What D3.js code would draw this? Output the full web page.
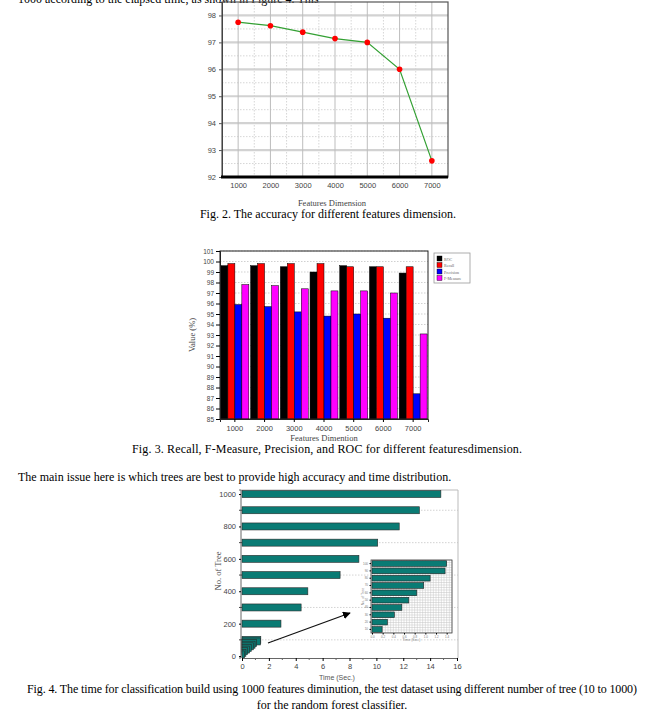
<!DOCTYPE html>
<html><head><meta charset="utf-8">
<script src="https://cdn.jsdelivr.net/npm/d3@7"></script>
<style>
html,body{margin:0;padding:0;background:#fff;}
svg{display:block;}
.cap{font-family:"Liberation Serif","Times New Roman",serif;font-size:12px;fill:#000;}
.lab{font-family:"Liberation Serif","Times New Roman",serif;font-size:8.5px;fill:#444;}
.tk text{font-family:"Liberation Sans",Arial,sans-serif;font-size:7.5px;fill:#444;}
</style></head>
<body>
<svg id="c" width="663" height="716"></svg>
<script>
// ---------- DATA ----------
const features = [1000, 2000, 3000, 4000, 5000, 6000, 7000];
const accuracy = [97.75, 97.62, 97.38, 97.14, 97.0, 96.0, 92.6];
const accTicks = [92, 93, 94, 95, 96, 97, 98];

const metricNames = ["ROC", "Recall", "Precision", "F-Measure"];
const rocVals = [99.6, 99.6, 99.5, 99.0, 99.6, 99.5, 98.9];
const recallVals = [99.8, 99.8, 99.8, 99.8, 99.5, 99.5, 99.5];
const precisionVals = [95.9, 95.7, 95.2, 94.8, 95.0, 94.6, 87.4];
const fmeasureVals = [97.8, 97.7, 97.4, 97.2, 97.2, 97.0, 93.1];
const metricColors = ["#000000", "#ff0000", "#0000ff", "#ff00ff"];
const valTicks = d3.range(85, 102);

const trees = [10, 20, 30, 40, 50, 60, 70, 80, 90, 100, 200, 300, 400, 500, 600, 700, 800, 900, 1000];
const times = [0.19, 0.29, 0.42, 0.56, 0.69, 0.84, 0.97, 1.09, 1.37, 1.40, 2.9, 4.4, 4.9, 7.3, 8.7, 10.1, 11.7, 13.2, 14.8];
const treeTicks = [0, 200, 400, 600, 800, 1000];
const timeTicks = [0, 2, 4, 6, 8, 10, 12, 14, 16];
const insetTimeTicks = [0.0, 0.2, 0.4, 0.6, 0.8, 1.0, 1.2, 1.4];

const svg = d3.select("#c");
const sansFont = '"Liberation Sans",Arial,sans-serif';

// ---------- page text ----------
svg.append("text").attr("class","cap").attr("x",18).attr("y",3)
  .text("1000 according to the elapsed time, as shown in Figure 4. This");

// ---------- FIG 2 ----------
(function(){
  const L=222,R=448,T=2,B=177;
  const x=d3.scaleLinear().domain([500,7500]).range([L,R]);
  const y=d3.scaleLinear().domain([92,98.5]).range([B,T]);
  const g=svg.append("g");
  d3.range(92.5,98.5,1).forEach(v=>g.append("line").attr("x1",L).attr("x2",R).attr("y1",y(v)).attr("y2",y(v))
    .attr("stroke","#ccc").attr("stroke-dasharray","1.5,1.5").attr("stroke-width",0.8));
  d3.range(1500,7500,1000).forEach(v=>g.append("line").attr("x1",x(v)).attr("x2",x(v)).attr("y1",T).attr("y2",B)
    .attr("stroke","#ccc").attr("stroke-dasharray","1.5,1.5").attr("stroke-width",0.8));
  accTicks.forEach(v=>g.append("line").attr("x1",L).attr("x2",R).attr("y1",y(v)).attr("y2",y(v))
    .attr("stroke","#d2d2d2").attr("stroke-width",2.2));
  features.forEach(v=>g.append("line").attr("x1",x(v)).attr("x2",x(v)).attr("y1",T).attr("y2",B)
    .attr("stroke","#bdbdbd").attr("stroke-width",1));
  g.append("rect").attr("x",L).attr("y",T).attr("width",R-L).attr("height",B-T)
    .attr("fill","none").attr("stroke","#555").attr("stroke-width",1.2);
  const ya=g.append("g").attr("class","tk").attr("transform",`translate(${L},0)`)
    .call(d3.axisLeft(y).tickValues(accTicks).tickSize(3).tickPadding(3).tickFormat(d3.format("d")));
  ya.select(".domain").attr("stroke","#444");
  ya.selectAll(".tick line").attr("stroke","#555");
  const xa=g.append("g").attr("class","tk").attr("transform",`translate(0,${B})`)
    .call(d3.axisBottom(x).tickValues(features).tickSize(0).tickPadding(6).tickFormat(d3.format("d")));
  xa.select(".domain").remove();
  g.append("line").attr("x1",L-1).attr("x2",R).attr("y1",B).attr("y2",B).attr("stroke","#000").attr("stroke-width",3);
  const line=d3.line().x((d,i)=>x(features[i])).y(d=>y(d));
  g.append("path").datum(accuracy).attr("d",line).attr("fill","none").attr("stroke","#33a033").attr("stroke-width",1.2);
  g.selectAll("circle.p").data(accuracy).join("circle").attr("cx",(d,i)=>x(features[i])).attr("cy",d=>y(d))
    .attr("r",2.8).attr("fill","#ff0000");
  svg.append("text").attr("class","lab").attr("x",332).attr("y",206).attr("text-anchor","middle").text("Features Dimension");
  svg.append("text").attr("class","cap").attr("x",328).attr("y",218).attr("text-anchor","middle")
    .text("Fig. 2. The accuracy for different features dimension.");
})();

// ---------- FIG 3 ----------
(function(){
  const L=220,R=428,T=251,B=419;
  const series=[rocVals,recallVals,precisionVals,fmeasureVals];
  const x0=d3.scaleBand().domain(features).range([L,R]).paddingInner(0.06).paddingOuter(0.03);
  const x1=d3.scaleBand().domain(metricNames).range([0,x0.bandwidth()]);
  const y=d3.scaleLinear().domain([85,101]).range([B,T]);
  const g=svg.append("g");
  valTicks.forEach(v=>g.append("line").attr("x1",L).attr("x2",R).attr("y1",y(v)).attr("y2",y(v))
    .attr("stroke","#bbb").attr("stroke-dasharray","1.5,1.5").attr("stroke-width",0.7));
  features.forEach((f,i)=>{
    metricNames.forEach((m,j)=>{
      g.append("rect").attr("x",x0(f)+x1(m)).attr("y",y(series[j][i]))
        .attr("width",x1.bandwidth()).attr("height",y(85)-y(series[j][i]))
        .attr("fill",metricColors[j]).attr("stroke","#000").attr("stroke-width",0.5);
    });
  });
  g.append("rect").attr("x",L).attr("y",T).attr("width",R-L).attr("height",B-T)
    .attr("fill","none").attr("stroke","#222").attr("stroke-width",1);
  const ya=g.append("g").attr("class","tk").attr("transform",`translate(${L},0)`)
    .call(d3.axisLeft(y).tickValues(valTicks).tickSize(4).tickPadding(2).tickFormat(d3.format("d")));
  ya.selectAll("text").style("font-size","6.5px");
  ya.select(".domain").attr("stroke","#222");
  const xa=g.append("g").attr("class","tk").attr("transform",`translate(0,${B})`)
    .call(d3.axisBottom(x0).tickSize(3).tickPadding(4));
  xa.select(".domain").attr("stroke","#222");
  const lg=svg.append("g").attr("transform","translate(434,253)");
  lg.append("rect").attr("width",36).attr("height",30).attr("fill","#fff").attr("stroke","#999").attr("stroke-width",0.8);
  metricNames.forEach((m,j)=>{
    lg.append("rect").attr("x",3).attr("y",3+j*6.5).attr("width",5).attr("height",5).attr("fill",metricColors[j]).attr("stroke","#000").attr("stroke-width",0.4);
    lg.append("text").attr("x",10).attr("y",7.5+j*6.5).attr("font-family","Liberation Serif").attr("font-size","4px").attr("fill","#666").text(m);
  });
  svg.append("text").attr("class","lab").attr("transform","translate(195,335) rotate(-90)").attr("text-anchor","middle").text("Value (%)");
  svg.append("text").attr("class","lab").attr("x",324).attr("y",441).attr("text-anchor","middle").text("Features Dimention");
  svg.append("text").attr("class","cap").attr("x",132).attr("y",453).attr("textLength",390).attr("lengthAdjust","spacing")
    .text("Fig. 3. Recall, F-Measure, Precision, and ROC for different featuresdimension.");
})();

svg.append("text").attr("class","cap").attr("x",18).attr("y",481)
  .text("The main issue here is which trees are best to provide high accuracy and time distribution.");

// ---------- FIG 4 ----------
(function(){
  const L=241,R=458,T=490,B=658;
  const x=d3.scaleLinear().domain([0,16]).range([L+1,457]);
  const y=d3.scaleLinear().domain([-12,1025]).range([B,T]);
  const g=svg.append("g");
  [100,300,500,700,900].forEach(v=>g.append("line").attr("x1",L).attr("x2",R).attr("y1",y(v)).attr("y2",y(v))
    .attr("stroke","#c8c8c8").attr("stroke-dasharray","1.5,1.5").attr("stroke-width",0.8));
  g.append("line").attr("x1",L).attr("x2",R).attr("y1",T).attr("y2",T).attr("stroke","#bbb");
  g.append("line").attr("x1",R).attr("x2",R).attr("y1",T).attr("y2",B).attr("stroke","#bbb");
  const order=trees.map((t,i)=>i).reverse();
  order.forEach(i=>{
    g.append("rect").attr("x",x(0)).attr("y",y(trees[i])-3.5).attr("width",x(times[i])-x(0)).attr("height",7)
      .attr("fill","#0a7b74").attr("stroke","#2a2a2a").attr("stroke-width",0.6);
  });
  const ya=g.append("g").attr("class","tk").attr("transform",`translate(${L},0)`)
    .call(d3.axisLeft(y).tickValues(treeTicks).tickSize(2).tickPadding(3).tickFormat(d3.format("d")));
  ya.select(".domain").attr("stroke","#666").attr("d",`M-2,${y(1025)}H0V${B}H-2`);
  [100,300,500,700,900].forEach(v=>g.append("line").attr("x1",L-2).attr("x2",L+1).attr("y1",y(v)).attr("y2",y(v)).attr("stroke","#444"));
  const xa=g.append("g").attr("class","tk").attr("transform",`translate(0,${B})`)
    .call(d3.axisBottom(x).tickValues(timeTicks).tickSize(3).tickPadding(3).tickFormat(d3.format("d")));
  xa.select(".domain").attr("stroke","#666");
  d3.range(1,16,2).forEach(v=>g.append("line").attr("x1",x(v)).attr("x2",x(v)).attr("y1",B).attr("y2",B+2).attr("stroke","#666"));
  svg.append("text").attr("class","lab").attr("transform","translate(221,571) rotate(-90)").attr("text-anchor","middle").text("No. of Tree");
  svg.append("text").attr("font-family",sansFont).attr("font-size","7px").attr("fill","#555").attr("x",337).attr("y",680).attr("text-anchor","middle").text("Time (Sec.)");

  const defs=svg.append("defs");
  defs.append("marker").attr("id","ah").attr("viewBox","0 0 10 10").attr("refX",9).attr("refY",5)
    .attr("markerWidth",6).attr("markerHeight",6).attr("orient","auto")
    .append("path").attr("d","M0,0L10,5L0,10z").attr("fill","#000");
  g.append("line").attr("x1",268).attr("y1",643).attr("x2",350).attr("y2",613)
    .attr("stroke","#111").attr("stroke-width",1.3).attr("marker-end","url(#ah)");

  const iL=371,iR=452,iT=560,iB=633;
  const ix=d3.scaleLinear().domain([0,1.5]).range([iL+1,iR]);
  const smallTrees=trees.filter(t=>t<=100);
  const iy=d3.scaleBand().domain(smallTrees.slice().reverse()).range([iT,iB]).paddingInner(0.22).paddingOuter(0.1);
  const ig=svg.append("g");
  ig.append("rect").attr("x",iL).attr("y",iT).attr("width",iR-iL).attr("height",iB-iT).attr("fill","#fff");
  d3.range(0,1.5001,0.05).forEach(v=>ig.append("line").attr("x1",ix(v)).attr("x2",ix(v)).attr("y1",iT).attr("y2",iB)
    .attr("stroke","#c4c4c4").attr("stroke-width",0.5));
  d3.range(iT,iB,2.5).forEach(v=>ig.append("line").attr("x1",iL).attr("x2",iR).attr("y1",v).attr("y2",v)
    .attr("stroke","#c4c4c4").attr("stroke-width",0.5));
  smallTrees.forEach(t=>{
    const i=trees.indexOf(t);
    ig.append("rect").attr("x",ix(0)).attr("y",iy(t)).attr("width",ix(times[i])-ix(0)).attr("height",iy.bandwidth())
      .attr("fill","#0a7b74").attr("stroke","#222").attr("stroke-width",0.6);
  });
  ig.append("rect").attr("x",iL).attr("y",iT).attr("width",iR-iL).attr("height",iB-iT).attr("fill","none")
    .attr("stroke","#444").attr("stroke-width",0.8);
  const iya=ig.append("g").attr("transform",`translate(${iL},0)`)
    .call(d3.axisLeft(iy).tickSize(1.5).tickPadding(1.5));
  iya.selectAll("text").attr("font-size","3px").attr("fill","#777").attr("font-family",sansFont);
  iya.select(".domain").remove();
  const ixa=ig.append("g").attr("transform",`translate(0,${iB})`)
    .call(d3.axisBottom(ix).tickValues(insetTimeTicks).tickSize(1.5).tickPadding(1.5).tickFormat(d3.format(".1f")));
  ixa.selectAll("text").attr("font-size","3px").attr("fill","#777").attr("font-family",sansFont);
  ixa.select(".domain").remove();
  ig.append("text").attr("transform",`translate(364,${(iT+iB)/2}) rotate(-90)`).attr("text-anchor","middle")
    .attr("font-size","3.5px").attr("fill","#888").attr("font-family",sansFont).text("No. of Tree");
  ig.append("text").attr("x",(iL+iR)/2).attr("y",iB+8).attr("text-anchor","middle")
    .attr("font-size","3.5px").attr("fill","#888").attr("font-family",sansFont).text("Time (Sec.)");

  svg.append("text").attr("class","cap").attr("x",27).attr("y",693).attr("textLength",610).attr("lengthAdjust","spacing")
    .text("Fig. 4. The time for classification build using 1000 features diminution, the test dataset using different number of tree (10 to 1000)");
  svg.append("text").attr("class","cap").attr("x",332).attr("y",709).attr("text-anchor","middle")
    .text("for the random forest classifier.");
})();
</script>
</body></html>
